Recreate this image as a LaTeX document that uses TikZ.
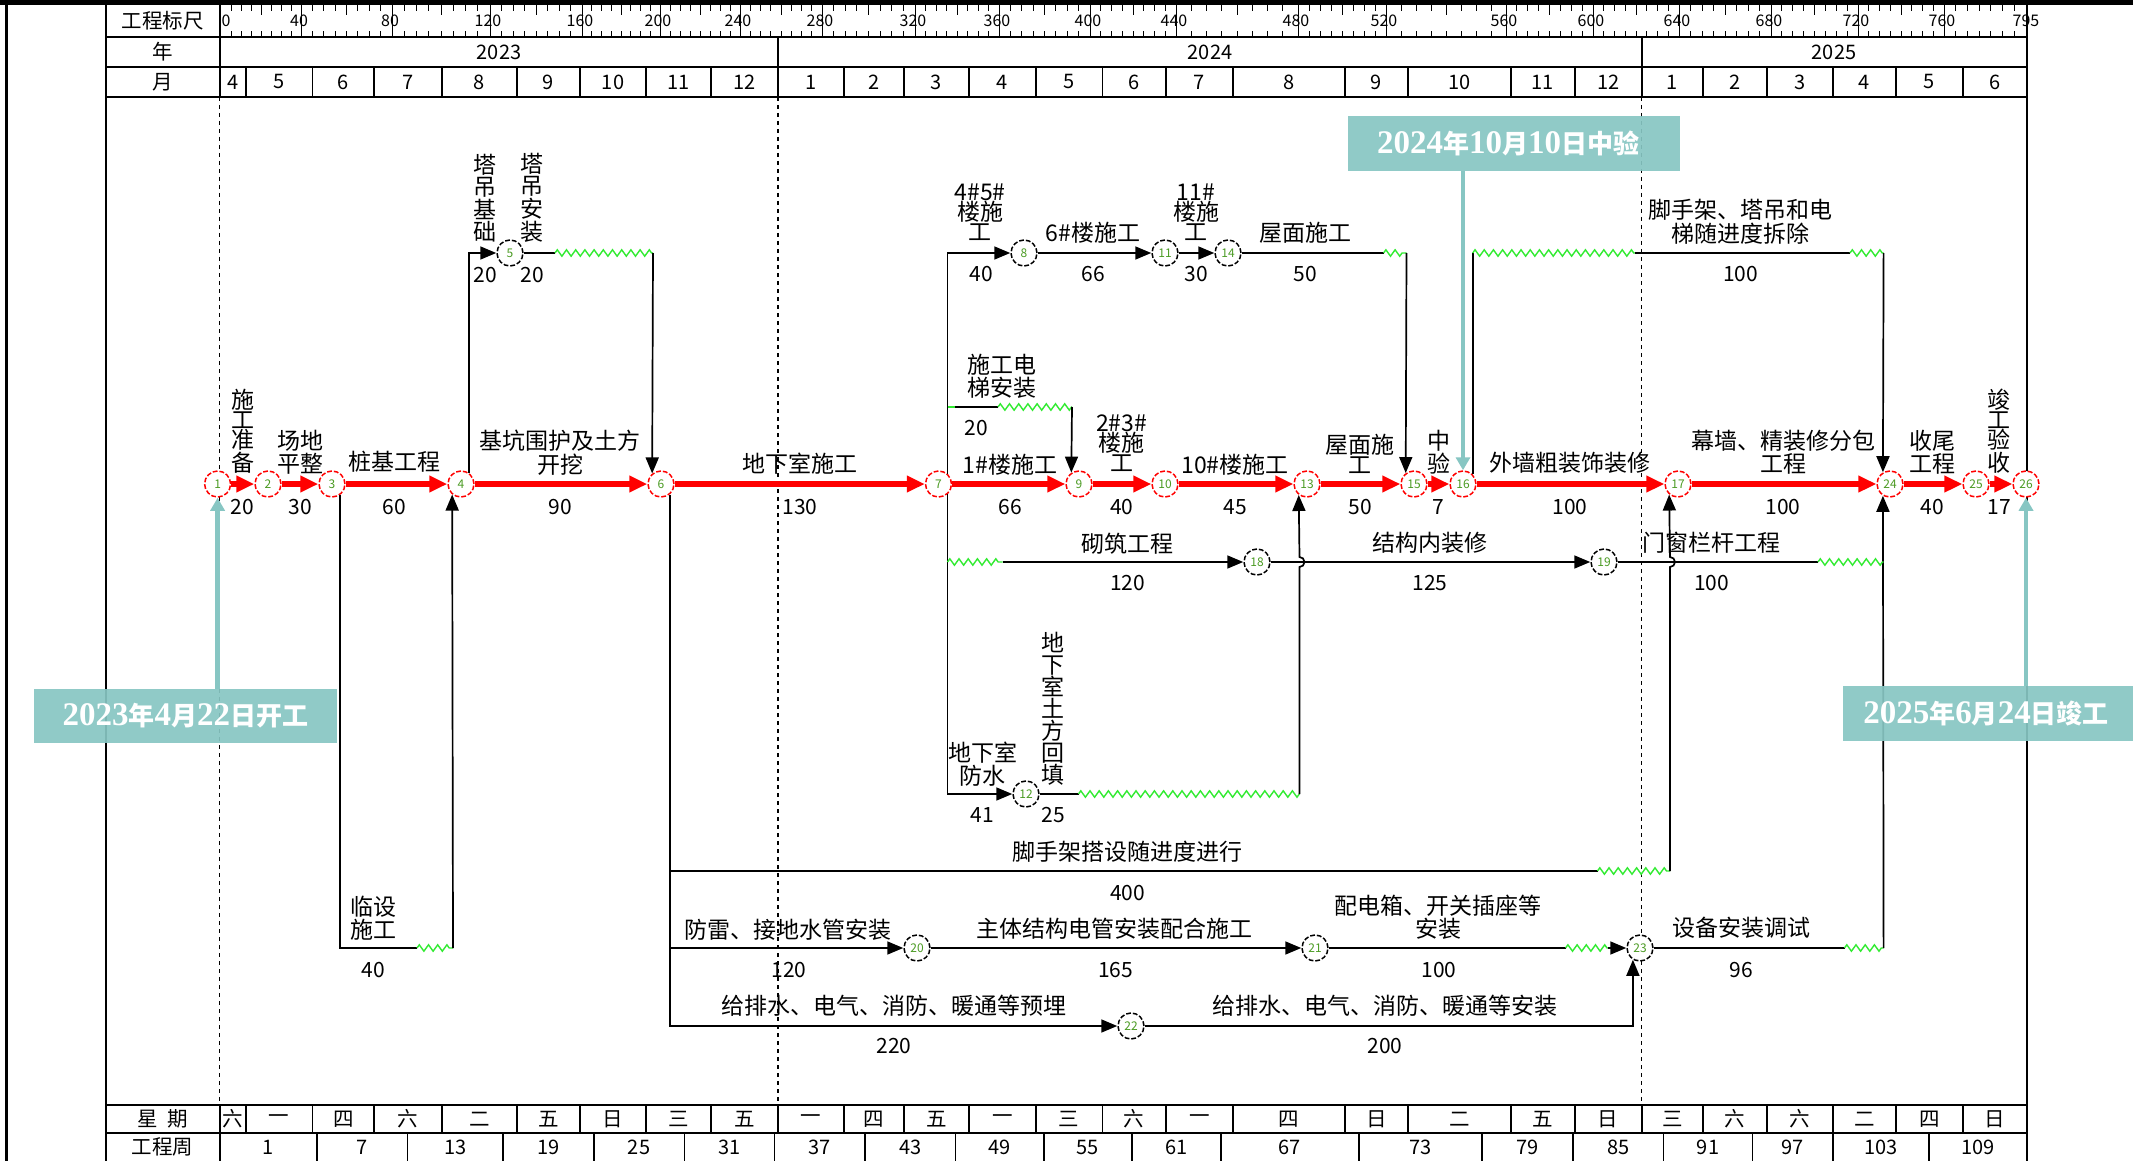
\documentclass[tikz,border=0pt]{standalone}
\usepackage{fontspec}
\setmainfont{Noto Sans CJK SC}
\newfontfamily\cjkf{Noto Sans CJK SC}
\newfontfamily\serf{Liberation Serif}
\usetikzlibrary{arrows.meta,decorations.pathmorphing,calc}
\definecolor{tealc}{RGB}{135,198,195}
\definecolor{zg}{RGB}{50,235,50}
\definecolor{numc}{RGB}{75,155,35}
\newcommand{\cjs}[1]{{\cjkf\bfseries\fontsize{13}{13}\selectfont #1}}
\begin{document}
\begin{tikzpicture}[x=0.5pt,y=-0.5pt,
 tbl/.style={line width=0.9pt,black},
 tk/.style={line width=0.5pt,black},
 cn/.style={circle,draw=red,dash pattern=on 2.4pt off 1pt,line width=0.75pt,fill=white,minimum size=13pt,inner sep=0pt,font=\fontsize{6}{6}\selectfont,text=numc},
 nn/.style={cn,draw=black},
 crit/.style={line width=2.75pt,red,-{Triangle[length=9pt,width=8pt]}},
 blk/.style={line width=0.85pt,black},
 barr/.style={blk,-{Triangle[length=8pt,width=6.5pt]}},
 zz/.style={draw=zg,line width=0.7pt,decorate,decoration={zigzag,segment length=4.6pt,amplitude=1.6pt}},
 lbl/.style={font=\fontsize{11.5}{10}\selectfont,align=center,inner sep=0pt},
 dur/.style={font=\fontsize{10.5}{10.5}\selectfont,inner sep=0pt},
 hdr/.style={font=\fontsize{10.25}{10.25}\selectfont,inner sep=0pt},
 dig/.style={font=\fontsize{10}{10}\selectfont,inner sep=0pt},
 rul/.style={font=\fontsize{8}{8}\selectfont,inner sep=0pt},
 yrl/.style={line width=0.6pt,dash pattern=on 2pt off 2pt},
 tarr/.style={draw=tealc,line width=2.25pt,-{Triangle[length=6.5pt,width=7pt]}},
 cbox/.style={fill=tealc,fill opacity=0.92},
 ctext/.style={text=white,font=\serf\bfseries\fontsize{16.5}{16.5}\selectfont,inner sep=0pt}
]
\useasboundingbox (0,0) rectangle (2133,1161);
\fill[white] (0,0) rectangle (2133,1161);
% frame
\fill[black] (0,0) rectangle (2133,5);
\fill[black] (4.5,0) rectangle (8,1161);
\draw[tbl] (106,5) -- (106,1161);
\draw[tbl] (2027,5) -- (2027,1161);
\draw[tbl] (219.7,5) -- (219.7,97);
\draw[tbl] (219.7,1105) -- (219.7,1161);
\foreach \yy in {37,67,97,1105,1133} {\draw[tbl] (106,\yy) -- (2027,\yy);}
% header labels
\node[hdr] (hA) at (162.5,21) {工程标尺};
\node[hdr] (hB) at (162.5,52) {年};
\node[hdr] (hC) at (162.5,82) {月};
\node[hdr] (hD) at (162.5,1119) {星\ \ 期};
\node[hdr] (hE) at (162.5,1147) {工程周};
% years
\draw[tbl] (778,37) -- (778,67);
\draw[tbl] (1641.7,37) -- (1641.7,67);
\node[dig] (y1) at (499,52) {2023};
\node[dig] (y2) at (1210,52) {2024};
\node[dig] (y3) at (1834,52) {2025};
% months and weekdays
\foreach \a/\b/\m/\w [count=\i] in {219.7/245.7/4/六,245.7/312.5/5/一,312.5/374/6/四,374/442/7/六,442/516.6/8/二,516.6/580/9/五,580/646/10/日,646/711/11/三,711/778/12/五,778/844/1/一,844/904/2/四,904/969/3/五,969/1036/4/一,1036/1102.4/5/三,1102.4/1166/6/六,1166/1233/7/一,1233/1344.7/8/四,1344.7/1408/9/日,1408/1511/10/二,1511/1574.6/11/五,1574.6/1641.7/12/日,1641.7/1703/1/三,1703/1767/2/六,1767/1833/3/六,1833/1896/4/二,1896/1963/5/四,1963/2027/6/日}
{
 \draw[tbl] (\b,67) -- (\b,97);
 \draw[tbl] (\b,1105) -- (\b,1133);
 \node[dig] (mo\i) at ({(\a+\b)/2},82) {\m};
 \node[hdr] (wd\i) at ({(\a+\b)/2},1119) {\w};
}
% project weeks
\foreach \a/\b/\w [count=\i] in {219.7/317.3/1,317.3/407.4/7,407.4/503/13,503/593.7/19,593.7/684.4/25,684.4/774.5/31,774.5/865.3/37,865.3/955.4/43,955.4/1044/49,1044/1131.9/55,1131.9/1220.8/61,1220.8/1359/67,1359/1482/73,1482/1573/79,1573/1663.5/85,1663.5/1752.5/91,1752.5/1833/97,1833/1929/103,1929/2027/109}
{
 \draw[tbl] (\b,1133) -- (\b,1161);
 \node[dig] (wk\i) at ({(\a+\b)/2},1147) {\w};
}
% ruler
\foreach \a/\b in {221/301,301/392,392/490,490/582,582/660,660/740,740/822,822/915,915/999,999/1090,1090/1176,1176/1298,1298/1386,1386/1506,1506/1593,1593/1679,1679/1771,1771/1858,1858/1944}
{
 \foreach \k in {1,...,7}{
  \pgfmathsetmacro\xx{\a+(\b-\a)*\k/8}
  \pgfmathsetmacro\LL{\k==4 ? 10 : 6}
  \draw[tk] (\xx,5) -- ++(0,\LL);
  \draw[tk] (\xx,37) -- ++(0,-6);
 }
}
\foreach \k in {1,...,6}{
  \pgfmathsetmacro\xx{1944+(2026-1944)*\k/7}
  \draw[tk] (\xx,5) -- ++(0,6);
  \draw[tk] (\xx,37) -- ++(0,-6);
}
\foreach \p/\v [count=\i] in {301/40,392/80,490/120,582/160,660/200,740/240,822/280,915/320,999/360,1090/400,1176/440,1298/480,1386/520,1506/560,1593/600,1679/640,1771/680,1858/720,1944/760}
{
 \draw[tk] (\p,5) -- (\p,37);
 \node[rul] (ru\i) at (\p-2,21) {\v};
}
\node[rul] (ru0) at (226,21) {0};
\node[rul] (ruE) at (2026,21) {795};
% year dotted lines
\draw[yrl] (219.7,97) -- (219.7,1105);
\draw[yrl] (778,97) -- (778,1105);
\draw[yrl] (1641.7,97) -- (1641.7,1105);

% nodes
\node[cn] (n1) at (217.6,484) {1};
\node[cn] (n2) at (268,484) {2};
\node[cn] (n3) at (332,484) {3};
\node[cn] (n4) at (461,484) {4};
\node[nn] (n5) at (510,253) {5};
\node[cn] (n6) at (661,484) {6};
\node[cn] (n7) at (938.5,484) {7};
\node[nn] (n8) at (1024,253) {8};
\node[cn] (n9) at (1079,484) {9};
\node[cn] (n10) at (1165,484) {10};
\node[nn] (n11) at (1165,253) {11};
\node[nn] (n12) at (1026,794) {12};
\node[cn] (n13) at (1307,484) {13};
\node[nn] (n14) at (1228,253) {14};
\node[cn] (n15) at (1414,484) {15};
\node[cn] (n16) at (1463,484) {16};
\node[cn] (n17) at (1678,484) {17};
\node[nn] (n18) at (1257,562) {18};
\node[nn] (n19) at (1604,562) {19};
\node[nn] (n20) at (917,948) {20};
\node[nn] (n21) at (1315,948) {21};
\node[nn] (n22) at (1131,1026) {22};
\node[nn] (n23) at (1640,948) {23};
\node[cn] (n24) at (1890,484) {24};
\node[cn] (n25) at (1976,484) {25};
\node[cn] (n26) at (2026,484) {26};

% critical path
\foreach \a/\b in {n1/n2,n2/n3,n3/n4,n4/n6,n6/n7,n7/n9,n9/n10,n10/n13,n13/n15,n15/n16,n16/n17,n17/n24,n24/n25,n25/n26}
 {\draw[crit] (\a) -- (\b);}

% tower crane branch
\draw[barr] (n4.53) |- (n5);
\draw[blk] (n5) -- (555,253);
\draw[zz] (555,253) -- (653,253);
\draw[barr] (653,253) -- (n6.130);
% temporary facilities
\draw[blk] (n3.-56) |- (417,948);
\draw[zz] (417,948) -- (453,948);
\draw[barr] (453,948) -- (n4.-130);
% from node 6 downward
\draw[barr] (n6.-51) |- (n22);
\draw[barr] (n6.-51 |- n20) -- (n20);
\draw[blk] (n6.-51 |- 0,871) -- (1597.5,871);
\draw[zz] (1597.5,871) -- (1670,871);
\draw[barr] (1670,871) -- (1670,567) arc[start angle=90,end angle=-90,radius=5] -- (n17.-130);
\draw[barr] (n20) -- (n21);
\draw[blk] (n21) -- (1565.6,948);
\draw[zz] (1565.6,948) -- (1608,948);
\draw[barr] (1608,948) -- (n23);
\draw[barr] (n22) -| (n23.-121);
\draw[blk] (n23) -- (1844.5,948);
\draw[zz] (1844.5,948) -- (1883.6,948);
\draw[barr] (1883.6,948) -- (n24.-121);
% from node 7
\draw[barr] (n7.49) |- (n8);
\draw[barr] (n8) -- (n11);
\draw[barr] (n11) -- (n14);
\draw[blk] (n14) -- (1383.6,253);
\draw[zz] (1383.6,253) -- (1406.5,253);
\draw[barr] (1406.5,253) -- (n15.127);
\draw[draw=zg,line width=0.85pt] (n7.49 |- 0,407) -- (955,407);
\draw[blk] (955,407) -- (998,407);
\draw[zz] (998,407) -- (1072,407);
\draw[barr] (1072,407) -- (n9.124);
\draw[barr] (n7.-49) |- (n12);
\draw[zz] (n7.-49 |- 0,562) -- (1002.6,562);
\draw[barr] (1002.6,562) -- (n18);
\draw[barr] (n18) -- (n19);
\draw[blk] (n19) -- (1818,562);
\draw[zz] (1818,562) -- (1883.6,562);
\draw[blk] (n12) -- (1078.5,794);
\draw[zz] (1078.5,794) -- (1299.5,794);
\draw[barr] (1299.5,794) -- (1299.5,567) arc[start angle=90,end angle=-90,radius=5] -- (n13.-127);
% node 16 up to 24
\draw[blk] (n16.45) -- (n16.45 |- 0,253);
\draw[zz] (n16.45 |- 0,253) -- (1635,253);
\draw[blk] (1635,253) -- (1850,253);
\draw[zz] (1850,253) -- (1883.6,253);
\draw[barr] (1883.6,253) -- (n24.121);

% labels main line
\node[lbl] (L1) at (242.5,431) {施\\工\\准\\备};
\node[lbl] (L2) at (300,452.5) {场地\\平整};
\node[lbl] (L3) at (394,462) {桩基工程};
\node[lbl] (L4) at (560,452.5) {基坑围护及土方\\开挖};
\node[lbl] (L5) at (800,464) {地下室施工};
\node[lbl] (L6) at (1010,465) {1\#楼施工};
\node[lbl] (L7) at (1121.7,443.3) {2\#3\#\\楼施\\工};
\node[lbl] (L8) at (1235,465) {10\#楼施工};
\node[lbl] (L9) at (1360,454) {屋面施\\工};
\node[lbl] (L10) at (1438.7,452.5) {中\\验};
\node[lbl] (L11) at (1570,463) {外墙粗装饰装修};
\node[lbl] (L12) at (1783,452.5) {幕墙、精装修分包\\工程};
\node[lbl] (L13) at (1932,452.5) {收尾\\工程};
\node[lbl] (L14) at (1999,431.5) {竣\\工\\验\\收};
\foreach \x/\t [count=\i] in {242.5/20,300/30,394/60,560/90,800/130,1010/66,1121.7/40,1235/45,1360/50,1438.7/7,1570/100,1783/100,1932/40,1999/17}
 {\node[dur] (D\i) at (\x,507) {\t};}
% top row labels
\node[lbl] (T1) at (485,198) {塔\\吊\\基\\础};
\node[dur] (TD1) at (485,275) {20};
\node[lbl] (T2) at (532,198) {塔\\吊\\安\\装};
\node[dur] (TD2) at (532,275) {20};
\node[lbl] (T3) at (980,211.7) {4\#5\#\\楼施\\工};
\node[dur] (TD3) at (981,274) {40};
\node[lbl] (T4) at (1093,233) {6\#楼施工};
\node[dur] (TD4) at (1093,274) {66};
\node[lbl] (T5) at (1196,211.7) {11\#\\楼施\\工};
\node[dur] (TD5) at (1196,274) {30};
\node[lbl] (T6) at (1305,233) {屋面施工};
\node[dur] (TD6) at (1305,274) {50};
\node[lbl] (T7) at (1740.7,221.7) {脚手架、塔吊和电\\梯随进度拆除};
\node[dur] (TD7) at (1740.7,274) {100};
\node[lbl] (T8) at (1001.7,376) {施工电\\梯安装};
\node[dur] (TD8) at (976,428) {20};
% middle labels
\node[lbl] (M1) at (1127.6,543.3) {砌筑工程};
\node[dur] (MD1) at (1127.6,583.3) {120};
\node[lbl] (M2) at (1430,543) {结构内装修};
\node[dur] (MD2) at (1430,583) {125};
\node[lbl] (M3) at (1711.7,543) {门窗栏杆工程};
\node[dur] (MD3) at (1711.7,583) {100};
\node[lbl] (M4) at (982.6,764) {地下室\\防水};
\node[dur] (MD4) at (982.6,815) {41};
\node[lbl,font=\fontsize{11.5}{11}\selectfont] (M5) at (1053,709) {地\\下\\室\\土\\方\\回\\填};
\node[dur] (MD5) at (1053,815) {25};
\node[lbl] (M6) at (1127.6,851.7) {脚手架搭设随进度进行};
\node[dur] (MD6) at (1127.6,892.7) {400};
\node[lbl] (M7) at (373,918.3) {临设\\施工};
\node[dur] (MD7) at (373,970) {40};
\node[lbl] (M8) at (788,929.3) {防雷、接地水管安装};
\node[dur] (MD8) at (789,970) {120};
\node[lbl] (M9) at (1114,929) {主体结构电管安装配合施工};
\node[dur] (MD9) at (1115.6,970) {165};
\node[lbl] (M10) at (1438,917.5) {配电箱、开关插座等\\安装};
\node[dur] (MD10) at (1439,970) {100};
\node[lbl] (M11) at (1741,928) {设备安装调试};
\node[dur] (MD11) at (1741,970) {96};
\node[lbl] (M12) at (894,1006) {给排水、电气、消防、暖通等预埋};
\node[dur] (MD12) at (894,1046) {220};
\node[lbl] (M13) at (1385,1006) {给排水、电气、消防、暖通等安装};
\node[dur] (MD13) at (1385,1046) {200};

% milestone callouts
\coordinate (t1) at (n1.south |- 0,689);
\coordinate (t2) at (n16.north |- 0,170.7);
\coordinate (t3) at (n26.south |- 0,685.7);
\draw[tarr] (t1) -- (n1.south);
\draw[tarr] (t2) -- (n16.north);
\draw[tarr] (t3) -- (n26.south);
\fill[cbox] (33.5,689) rectangle (337,743);
\fill[cbox] (1347.9,115.7) rectangle (1679.5,170.7);
\fill[cbox] (1843,685.7) rectangle (2133,740.7);
\node[ctext] (c1) at (185.3,716) {2023\cjs{年}4\cjs{月}22\cjs{日开工}};
\node[ctext] (c2) at (1508,143.2) {2024\cjs{年}10\cjs{月}10\cjs{日中验}};
\node[ctext] (c3) at (1986,713.2) {2025\cjs{年}6\cjs{月}24\cjs{日竣工}};
\end{tikzpicture}
\end{document}
